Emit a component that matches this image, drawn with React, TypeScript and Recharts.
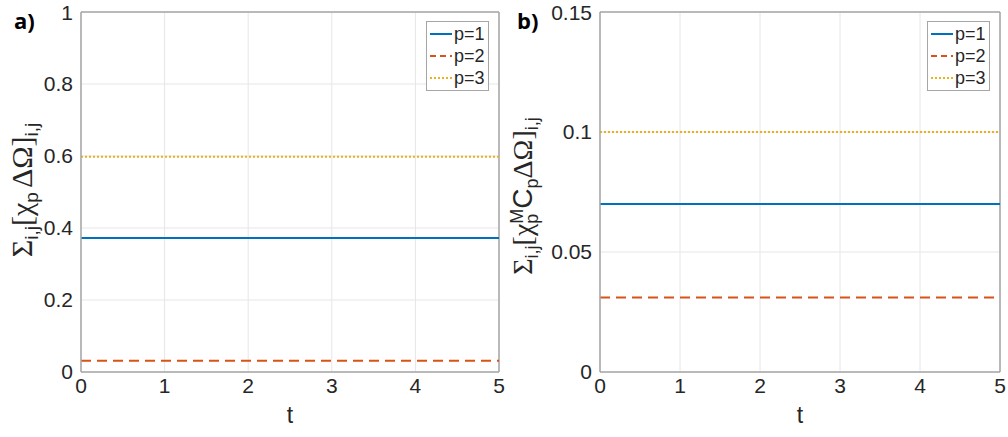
import { CartesianGrid, Legend, Line, LineChart, ReferenceLine, XAxis, YAxis } from "recharts";

// t samples (the series are flat over the whole range)
const tPoints = [0, 5];
const tTicks = [0, 1, 2, 3, 4, 5];

// panel a) sum of chi_p * dOmega
const aP1 = [0.372, 0.372];
const aP2 = [0.031, 0.031];
const aP3 = [0.598, 0.598];
const aTicks = [0, 0.2, 0.4, 0.6, 0.8, 1];

// panel b) sum of chi_p^M * C_p * dOmega
const bP1 = [0.07, 0.07];
const bP2 = [0.031, 0.031];
const bP3 = [0.1, 0.1];
const bTicks = [0, 0.05, 0.1, 0.15];

const seriesNames = ["p=1", "p=2", "p=3"];

const SANS = "'Liberation Sans', Arial, Helvetica, sans-serif";
const SERIF = "'Liberation Serif', 'Times New Roman', serif";
const INK = "#262626";
const AXIS = "#a6a6a6";
const GRID = "#e6e6e6";

const styles = [
  { color: "#0072BD", dash: undefined as string | undefined },
  { color: "#D95319", dash: "10 6" },
  { color: "#EDB120", dash: "2 2" },
];

const buildRows = (cols: number[][]) =>
  tPoints.map((t, i) => ({ t, p1: cols[0][i], p2: cols[1][i], p3: cols[2][i] }));

const LegendBox = () => (
  <div
    style={{
      border: `1px solid ${AXIS}`,
      background: "#fff",
      padding: "1px 3px 1px 3px",
      fontFamily: SANS,
      fontSize: 18,
      color: INK,
      lineHeight: "22px",
    }}
  >
    {seriesNames.map((name, i) => (
      <div key={name} style={{ display: "flex", alignItems: "center" }}>
        <svg width={23} height={4}>
          <line x1={0} x2={22} y1={2} y2={2} stroke={styles[i].color} strokeWidth={2} strokeDasharray={i === 1 ? "6 4" : styles[i].dash} />
        </svg>
        <span style={{ marginLeft: 1 }}>{name}</span>
      </div>
    ))}
  </div>
);

const sub = (s: string, dy: number, size = 18) => (
  <tspan fontFamily={SANS} fontSize={size} dy={dy}>
    {s}
  </tspan>
);

const LabelA = () => (
  <g fill={INK}>
    <text x={14} y={29} fontFamily="'Open Sans', sans-serif" fontWeight="bold" fontSize={22} fill="#000">
      a)
    </text>
    <text transform="rotate(-90 32 190)" x={32} y={190} textAnchor="middle" fontFamily={SERIF} fontSize={30}>
      <tspan>Σ</tspan>
      {sub("i,j", 6, 19)}
      <tspan dy={-6}>[χ</tspan>
      {sub("p", 6, 19)}
      <tspan dy={-6} dx={4}>ΔΩ]</tspan>
      {sub("i,j", 6, 19)}
    </text>
  </g>
);

const LabelB = () => (
  <g fill={INK}>
    <text x={17} y={29} fontFamily="'Open Sans', sans-serif" fontWeight="bold" fontSize={22} fill="#000">
      b)
    </text>
    <text transform="rotate(-90 32 196)" x={32} y={196} textAnchor="middle" fontFamily={SERIF} fontSize={28}>
      <tspan>Σ</tspan>
      {sub("i,j", 6)}
      <tspan dy={-6}>[χ</tspan>
      {sub("p", 6)}
      <tspan fontFamily={SANS} fontSize={18} dx={-10} dy={-15}>
        M
      </tspan>
      <tspan fontFamily={SANS} fontSize={28} dy={9}>
        C
      </tspan>
      {sub("p", 6)}
      <tspan dy={-6}>ΔΩ]</tspan>
      {sub("i,j", 6)}
    </text>
  </g>
);

type PanelProps = {
  left: number;
  width: number;
  yAxisWidth: number;
  marginRight: number;
  rows: ReturnType<typeof buildRows>;
  yTicks: number[];
  yMax: number;
  legendLeft: number;
  Label: () => JSX.Element;
};

const Panel = ({ left, width, yAxisWidth, marginRight, rows, yTicks, yMax, legendLeft, Label }: PanelProps) => (
  <div style={{ position: "absolute", left, top: 0, width, height: 437 }}>
    <LineChart width={width} height={437} data={rows} margin={{ top: 12, right: marginRight, bottom: 0, left: 0 }}>
      <CartesianGrid stroke={GRID} strokeWidth={1} />
      <XAxis
        dataKey="t"
        type="number"
        domain={[0, 5]}
        ticks={tTicks}
        height={65}
        stroke={AXIS}
        axisLine={{ stroke: AXIS, strokeWidth: 1.5 }}
        tickLine={false}
        tickSize={4}
        tickMargin={2}
        tick={{ fill: INK, fontSize: 21, fontFamily: SANS }}
        label={{ value: "t", position: "insideBottom", offset: 14, fill: INK, fontSize: 23, fontFamily: SANS }}
      />
      <YAxis
        type="number"
        domain={[0, yMax]}
        ticks={yTicks}
        width={yAxisWidth}
        axisLine={{ stroke: AXIS, strokeWidth: 1.5 }}
        tickLine={false}
        tickSize={4}
        tickMargin={4}
        tick={{ fill: INK, fontSize: 21, fontFamily: SANS }}
        tickFormatter={(v: number) => String(v)}
        label={() => <Label />}
      />
      <ReferenceLine y={yMax} stroke={AXIS} strokeWidth={1.5} />
      <ReferenceLine x={5} stroke={AXIS} strokeWidth={1.5} />
      {["p1", "p2", "p3"].map((key, i) => (
        <Line
          key={key}
          dataKey={key}
          name={seriesNames[i]}
          type="linear"
          stroke={styles[i].color}
          strokeWidth={2}
          strokeDasharray={styles[i].dash}
          dot={false}
          activeDot={false}
          isAnimationActive={false}
        />
      ))}
      <Legend
        layout="horizontal"
        verticalAlign="middle"
        align="center"
        content={() => <LegendBox />}
        wrapperStyle={{ left: legendLeft, top: 21, width: "auto" }}
      />
    </LineChart>
  </div>
);

export default function App() {
  return (
    <div style={{ position: "absolute", left: 0, top: 0, width: 1008, height: 437, background: "#fff" }}>
      <Panel
        left={0}
        width={520}
        yAxisWidth={81}
        marginRight={21}
        rows={buildRows([aP1, aP2, aP3])}
        yTicks={aTicks}
        yMax={1}
        legendLeft={426}
        Label={LabelA}
      />
      <Panel
        left={500}
        width={508}
        yAxisWidth={100}
        marginRight={8}
        rows={buildRows([bP1, bP2, bP3])}
        yTicks={bTicks}
        yMax={0.15}
        legendLeft={427}
        Label={LabelB}
      />
    </div>
  );
}
